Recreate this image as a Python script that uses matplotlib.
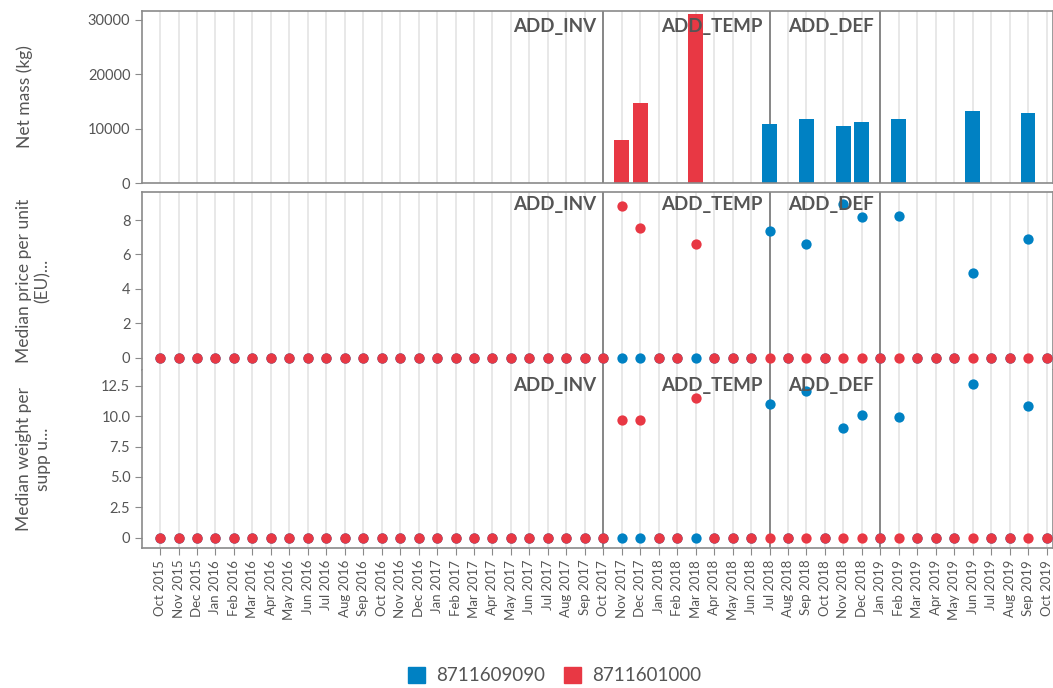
import numpy as np
import matplotlib
matplotlib.use("Agg")
import matplotlib.pyplot as plt
from matplotlib.patches import Patch
import matplotlib.transforms as mtransforms

plt.rcParams['font.family'] = ['Lato', 'DejaVu Sans']

months = ["Oct 2015", "Nov 2015", "Dec 2015", "Jan 2016", "Feb 2016", "Mar 2016",
          "Apr 2016", "May 2016", "Jun 2016", "Jul 2016", "Aug 2016", "Sep 2016",
          "Oct 2016", "Nov 2016", "Dec 2016", "Jan 2017", "Feb 2017", "Mar 2017",
          "Apr 2017", "May 2017", "Jun 2017", "Jul 2017", "Aug 2017", "Sep 2017",
          "Oct 2017", "Nov 2017", "Dec 2017", "Jan 2018", "Feb 2018", "Mar 2018",
          "Apr 2018", "May 2018", "Jun 2018", "Jul 2018", "Aug 2018", "Sep 2018",
          "Oct 2018", "Nov 2018", "Dec 2018", "Jan 2019", "Feb 2019", "Mar 2019",
          "Apr 2019", "May 2019", "Jun 2019", "Jul 2019", "Aug 2019", "Sep 2019",
          "Oct 2019"]

# product 8711609090 (blue)
months_9090 = ["Jul 2018", "Sep 2018", "Nov 2018", "Dec 2018", "Feb 2019", "Jun 2019", "Sep 2019"]
mass_9090 = [10900, 11850, 10400, 11300, 11850, 13300, 12950]
price_9090 = [7.37, 6.61, 8.94, 8.16, 8.26, 4.94, 6.88]
weight_9090 = [10.97, 12.06, 9.0, 10.09, 9.95, 12.64, 10.83]

# product 8711601000 (red)
months_1000 = ["Nov 2017", "Dec 2017", "Mar 2018"]
mass_1000 = [8000, 14800, 31100]
price_1000 = [8.82, 7.56, 6.61]
weight_1000 = [9.68, 9.68, 11.5]

events = ["ADD_INV", "ADD_TEMP", "ADD_DEF"]
event_months = ["Oct 2017", "Jul 2018", "Jan 2019"]

blue = "#0081c3"
red = "#e83844"
grey_txt = "#555555"
frame = "#8a8a8a"

x_all = np.arange(len(months))
x_9090 = [months.index(m) for m in months_9090]
x_1000 = [months.index(m) for m in months_1000]
x_ev = [months.index(m) for m in event_months]


def full(xs, vals):
    out = np.zeros(len(months))
    out[xs] = vals
    return out


fig = plt.figure(figsize=(10.53, 6.88), dpi=100)
left, right = 0.135, 1.0
ax1 = fig.add_axes([left, 0.734, right - left, 0.250])
ax2 = fig.add_axes([left, 0.462, right - left, 0.259])
ax3 = fig.add_axes([left, 0.2035, right - left, 0.2585])

for ax in (ax1, ax2, ax3):
    ax.set_xlim(-0.97, 48.35)
    ax.set_xticks(x_all)
    ax.grid(axis="x", color="#e6e6e6", linewidth=1.3)
    ax.set_axisbelow(True)
    for s in ax.spines.values():
        s.set_color(frame)
        s.set_linewidth(1.2)
    ax.tick_params(axis="y", colors=grey_txt, labelsize=10.5, length=5, color=frame)
    ax.tick_params(axis="x", length=5, color=frame)
    for xe in x_ev:
        ax.axvline(xe, color="#777777", linewidth=1.2, zorder=1)

# top: bars
ax1.bar(x_1000, mass_1000, width=0.8, color=red, zorder=2)
ax1.bar(x_9090, mass_9090, width=0.8, color=blue, zorder=2)
ax1.set_ylim(0, 31650)
ax1.set_yticks([0, 10000, 20000, 30000])
ax1.set_xticklabels([])
ax1.tick_params(axis="x", length=0)
ax1.set_ylabel("Net mass (kg)", fontsize=12.5, color=grey_txt)
ax1.yaxis.set_label_coords(-0.12, 0.5)

# middle: price
ax2.scatter(x_all, full(x_9090, price_9090), s=55, color=blue, zorder=3, linewidths=0)
ax2.scatter(x_all, full(x_1000, price_1000), s=55, color=red, zorder=4, linewidths=0)
ax2.set_ylim(-0.715, 9.63)
ax2.set_yticks([0, 2, 4, 6, 8])
ax2.set_xticklabels([])
ax2.tick_params(axis="x", length=0)
ax2.spines["bottom"].set_visible(False)
ax2.set_ylabel("Median price per unit\n(EU)...", fontsize=12.5, color=grey_txt)
ax2.yaxis.set_label_coords(-0.1, 0.5)

# bottom: weight
ax3.scatter(x_all, full(x_9090, weight_9090), s=55, color=blue, zorder=3, linewidths=0)
ax3.scatter(x_all, full(x_1000, weight_1000), s=55, color=red, zorder=4, linewidths=0)
ax3.set_ylim(-0.85, 13.79)
ax3.set_yticks([0, 2.5, 5.0, 7.5, 10.0, 12.5])
ax3.set_yticklabels(["0", "2.5", "5.0", "7.5", "10.0", "12.5"])
ax3.spines["top"].set_visible(False)
ax3.set_xticklabels(months, rotation=90, fontsize=9.5, color=grey_txt)
ax3.set_ylabel("Median weight per\nsupp u...", fontsize=12.5, color=grey_txt)
ax3.yaxis.set_label_coords(-0.1, 0.5)

for ax, dy in ((ax1, -5), (ax2, -3), (ax3, -5)):
    trans = mtransforms.blended_transform_factory(ax.transData, ax.transAxes)
    off = mtransforms.offset_copy(trans, fig=fig, x=-5, y=dy, units="points")
    for xe, name in zip(x_ev, events):
        ax.text(xe, 1.0, name, transform=off, ha="right", va="top",
                fontsize=13.5, fontweight="bold", color=grey_txt, zorder=5)

handles = [Patch(color=blue), Patch(color=red)]
fig.legend(handles, ["8711609090", "8711601000"], loc="center",
           bbox_to_anchor=(0.527, 0.018), ncol=2, frameon=False,
           fontsize=13.5, handlelength=0.9, handleheight=0.9, columnspacing=1.0,
           handletextpad=0.6, labelcolor=grey_txt)

fig.savefig("out.png", dpi=100)
